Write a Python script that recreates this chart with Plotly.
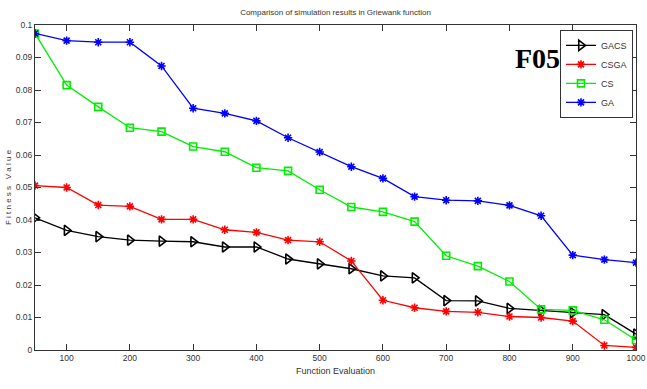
import plotly.graph_objects as go

evals = [50, 100, 150, 200, 250, 300, 350, 400, 450, 500,
         550, 600, 650, 700, 750, 800, 850, 900, 950, 1000]

gacs = [0.0407, 0.0368, 0.0349, 0.0338, 0.0335, 0.0333, 0.0317, 0.0317, 0.0280, 0.0265,
        0.0250, 0.0228, 0.0222, 0.0152, 0.0151, 0.0128, 0.0122, 0.0115, 0.0109, 0.0049]
csga = [0.0506, 0.0500, 0.0446, 0.0442, 0.0402, 0.0402, 0.0370, 0.0362, 0.0338, 0.0333,
        0.0274, 0.0153, 0.0130, 0.0119, 0.0116, 0.0103, 0.0100, 0.0089, 0.0014, 0.0008]
cs = [0.0974, 0.0815, 0.0748, 0.0684, 0.0672, 0.0626, 0.0610, 0.0561, 0.0551, 0.0493,
      0.0440, 0.0425, 0.0395, 0.0290, 0.0258, 0.0211, 0.0125, 0.0122, 0.0093, 0.0031]
ga = [0.0974, 0.0952, 0.0947, 0.0947, 0.0874, 0.0744, 0.0728, 0.0705, 0.0653, 0.0609,
      0.0564, 0.0528, 0.0472, 0.0461, 0.0459, 0.0445, 0.0413, 0.0292, 0.0278, 0.0269]

x_ticks = [100, 200, 300, 400, 500, 600, 700, 800, 900, 1000]
y_ticks = [0, 0.01, 0.02, 0.03, 0.04, 0.05, 0.06, 0.07, 0.08, 0.09, 0.1]
y_tick_text = ["0", "0.01", "0.02", "0.03", "0.04", "0.05", "0.06", "0.07", "0.08", "0.09", "0.1"]

FONT = "Liberation Sans, Arial, sans-serif"
INK = "#333333"

series = [
    ("GACS", gacs, "black", "triangle-right-open", 9),
    ("CSGA", csga, "red", "asterisk-open", 7),
    ("CS", cs, "#00ee00", "square-open", 7),
    ("GA", ga, "blue", "asterisk-open", 7),
]

fig = go.Figure()
for name, vals, color, sym, size in series:
    fig.add_trace(go.Scatter(
        x=evals, y=vals, name=name, mode="lines+markers",
        line=dict(color=color, width=1.3),
        marker=dict(symbol=sym, size=size, color=color,
                    line=dict(color=color, width=1.6)),
    ))

axis_common = dict(
    showline=True, mirror="ticks", linecolor=INK, linewidth=1,
    ticks="inside", ticklen=6, tickcolor=INK,
    showgrid=False, zeroline=False, automargin=False,
    ticklabeloverflow="allow",
    tickfont=dict(family=FONT, size=8.5, color=INK),
)

fig.update_layout(
    width=647, height=389,
    margin=dict(l=35, r=11, t=25, b=39),
    paper_bgcolor="white", plot_bgcolor="white",
    title=dict(text="Comparison of simulation results in Griewank function",
               x=0.5, xref="paper", y=0.968, yanchor="middle",
               font=dict(family=FONT, size=8, color=INK)),
    xaxis=dict(range=[50, 1000], tickvals=x_ticks, **axis_common,
               title=dict(text="Function Evaluation", standoff=5,
                          font=dict(family=FONT, size=9, color=INK))),
    yaxis=dict(range=[0, 0.1], tickvals=y_ticks, ticktext=y_tick_text, **axis_common,
               title=dict(text="F i t n e s s   V a l u e", standoff=2,
                          font=dict(family=FONT, size=8, color=INK))),
    legend=dict(x=0.995, y=0.985, xanchor="right", yanchor="top",
                bgcolor="white", bordercolor=INK, borderwidth=1,
                font=dict(family=FONT, size=9, color=INK),
                tracegroupgap=0, itemwidth=30),
    showlegend=True,
)

fig.add_annotation(
    text="<b>F05</b>", xref="paper", yref="paper", x=0.836, y=0.898,
    xanchor="center", yanchor="middle", showarrow=False,
    font=dict(family="Liberation Serif, Times New Roman, serif", size=28, color="black"),
)

fig.write_html("out.html")
